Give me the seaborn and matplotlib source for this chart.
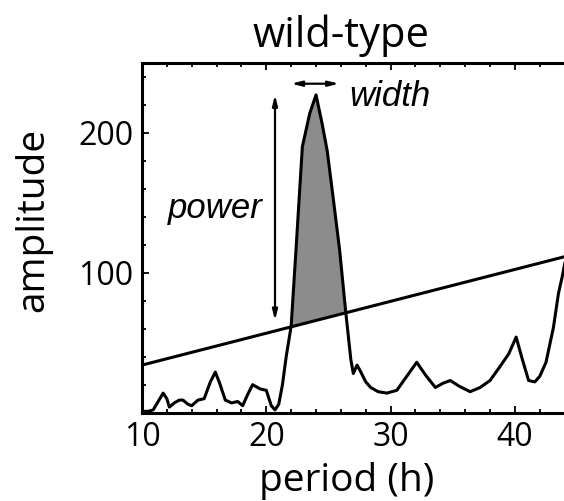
import numpy as np
import pandas as pd
import seaborn as sns
import matplotlib
matplotlib.use("Agg")
import matplotlib.pyplot as plt
from matplotlib.ticker import MultipleLocator

# ---- data ----
period = [10.0, 10.5, 10.9, 11.3, 11.7, 12.0, 12.2, 12.6, 13.0, 13.3, 13.7, 14.0,
          14.5, 15.0, 15.5, 15.9, 16.25, 16.7, 17.2, 17.7, 18.1, 18.5, 18.9, 19.5,
          20.0, 20.4, 20.7, 21.0, 21.3, 21.6, 22.0, 22.4, 22.9, 23.5, 24.0, 24.5,
          24.9, 25.4, 25.9, 26.4, 26.8, 27.0, 27.3, 27.55, 28.0, 28.4, 29.0, 29.7,
          30.5, 31.3, 32.1, 32.8, 33.6, 34.2, 34.8, 35.5, 36.4, 37.2, 38.0, 38.8,
          39.5, 40.1, 40.6, 41.1, 41.6, 42.0, 42.5, 43.1, 43.5, 43.8, 44.2]
amplitude = [1, 1, 2, 8, 14, 10, 4, 7, 9, 9, 6, 5,
             9, 10, 22, 29, 21, 9, 7, 8, 5, 13, 20, 17,
             16, 5, 2, 6, 20, 40, 62, 118, 190, 214, 227, 206,
             187, 152, 116, 71, 38, 28, 34, 30, 22, 18, 15, 14,
             16, 26, 36, 27, 18, 21, 23, 19, 15, 18, 23, 33,
             42, 54, 38, 23, 22, 26, 36, 61, 85, 97, 115]
threshold_x = [10, 46]
threshold_y = [34, 116]

x_ticks = [10, 20, 30, 40]
y_ticks = [100, 200]

df = pd.DataFrame({"period": period, "amplitude": amplitude})
thr = pd.DataFrame({"period": threshold_x, "amplitude": threshold_y})

sns.set_style("ticks")
plt.rcParams['font.family'] = ['Open Sans', 'DejaVu Sans']
plt.rcParams['text.color'] = 'black'
plt.rcParams['xtick.color'] = 'black'
plt.rcParams['ytick.color'] = 'black'
plt.rcParams['axes.labelcolor'] = 'black'
plt.rcParams['lines.solid_joinstyle'] = 'round'

W, H = 564, 501
fig = plt.figure(figsize=(W / 100, H / 100), dpi=100)
ax = fig.add_axes([142 / W, (H - 412.7) / H, 447.5 / W, 350 / H])

sns.lineplot(data=df, x="period", y="amplitude", ax=ax, color="black", lw=2.2,
             sort=False, estimator=None)
sns.lineplot(data=thr, x="period", y="amplitude", ax=ax, color="black", lw=2.2,
             estimator=None)

# shaded area where spectrum exceeds threshold
px = np.array(period, dtype=float)
py = np.array(amplitude, dtype=float)
ty = np.interp(px, threshold_x, threshold_y)
ax.fill_between(px, py, ty, where=py > ty, interpolate=True, color="#8c8c8c",
                zorder=1, lw=0)

ax.set_xlim(10, 46)
ax.set_ylim(0, 250)
ax.set_xticks(x_ticks)
ax.set_yticks(y_ticks)
ax.xaxis.set_minor_locator(MultipleLocator(2))
ax.yaxis.set_minor_locator(MultipleLocator(20))
ax.tick_params(which="both", direction="in", top=True, right=True, width=1.3,
               labelsize=23, pad=6, colors="black")
ax.tick_params(which="major", length=5)
ax.tick_params(which="minor", length=3)
for s in ax.spines.values():
    s.set_linewidth(2.2)
    s.set_color("black")
ax.set_xlabel("")
ax.set_ylabel("")

# annotations
peak_x = 24.0
peak_y = 227
thr_at_peak = np.interp(peak_x, threshold_x, threshold_y)
ax.annotate("", xy=(20.7, peak_y), xytext=(20.7, thr_at_peak),
            arrowprops=dict(arrowstyle="<|-|>,head_length=0.6,head_width=0.15",
                            color="black", lw=1.6, shrinkA=0, shrinkB=0))
ax.annotate("", xy=(22.0, 235), xytext=(25.85, 235),
            arrowprops=dict(arrowstyle="<|-|>,head_length=0.6,head_width=0.15",
                            color="black", lw=1.6, shrinkA=0, shrinkB=0))
ax.text(19.7, 146, "power", ha="right", va="center", fontsize=25, style="italic",
        family=["Liberation Sans"], color="black")
ax.text(26.7, 226, "width", ha="left", va="center", fontsize=25, style="italic",
        family=["Liberation Sans"], color="black")

fig.text(341 / W, 1 - 36 / H, "wild-type", ha="center", va="center", fontsize=30,
         color="black")
fig.text(347 / W, 1 - 481 / H, "period (h)", ha="center", va="center", fontsize=28,
         color="black")
fig.text(33 / W, 1 - 220 / H, "amplitude", ha="center", va="center", fontsize=28,
         rotation=90, color="black")

fig.savefig("out.png", dpi=100)
